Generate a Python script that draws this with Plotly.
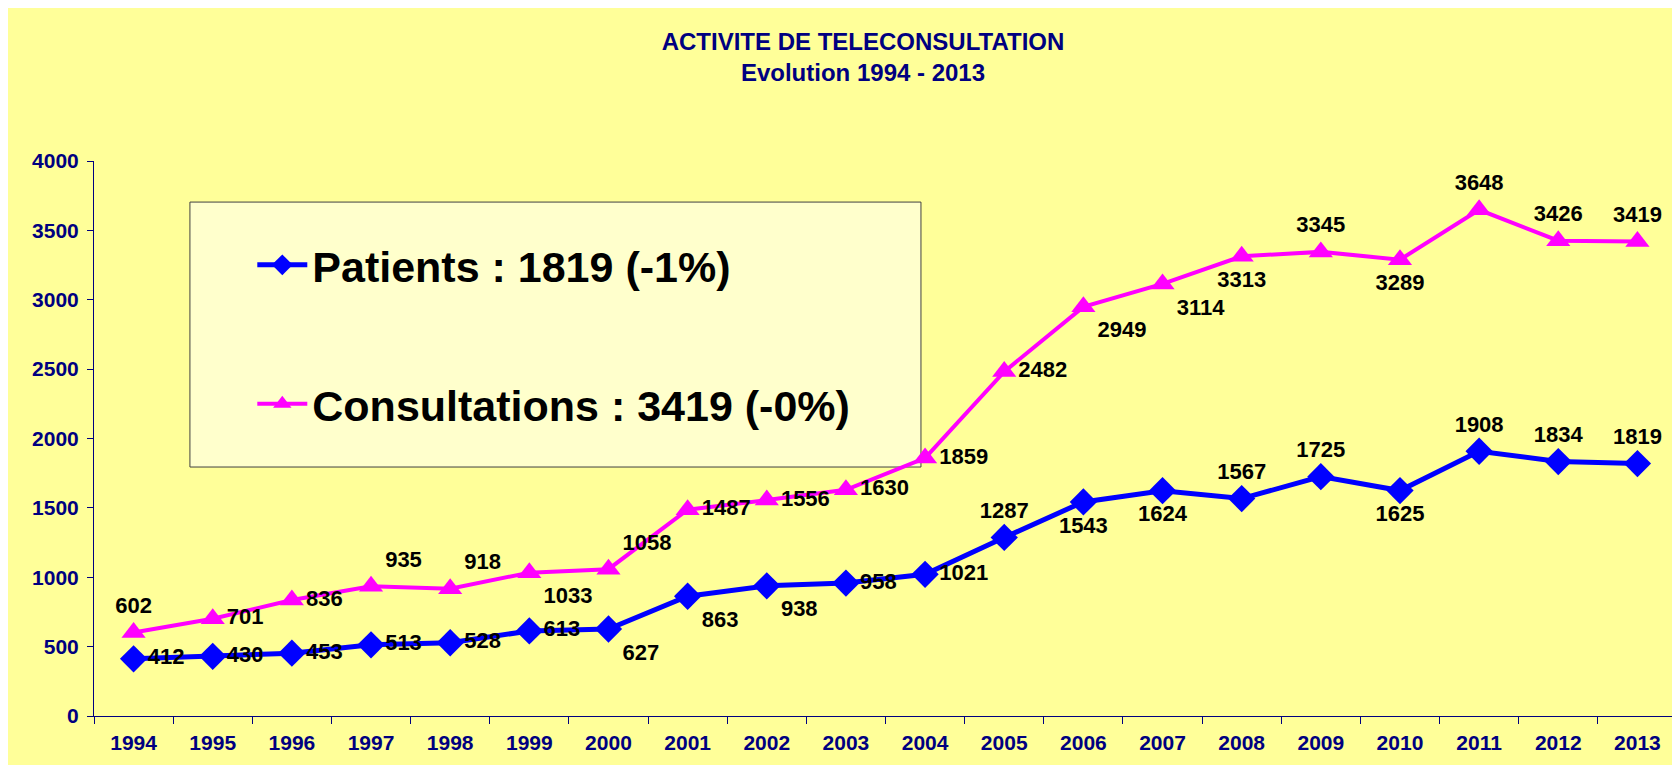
import plotly.graph_objects as go

# ==========================================================
# DATA
# ==========================================================

years = [str(y) for y in range(1994, 2014)]

patients = [412, 430, 453, 513, 528, 613, 627, 863, 938, 958,
            1021, 1287, 1543, 1624, 1567, 1725, 1625, 1908, 1834, 1819]

consultations = [602, 701, 836, 935, 918, 1033, 1058, 1487, 1556, 1630,
                 1859, 2482, 2949, 3114, 3313, 3345, 3289, 3648, 3426, 3419]

patients_label = "Patients : 1819 (-1%)"
consultations_label = "Consultations : 3419 (-0%)"

# label placement, Excel style
patients_pos = ["middle right"] * 6 + ["bottom right", "bottom right",
                                       "bottom right", "middle right",
                                       "middle right", "top center",
                                       "bottom center", "bottom center",
                                       "top center", "top center",
                                       "bottom center", "top center",
                                       "top center", "top center"]

consultations_pos = ["top center", "middle right", "middle right", "top right",
                     "top right", "bottom right", "top right", "middle right",
                     "middle right", "middle right", "middle right",
                     "middle right", "bottom right", "bottom right",
                     "bottom center", "top center", "bottom center",
                     "top center", "top center", "top center"]

# ==========================================================
# STYLE
# ==========================================================

FONT = "Liberation Sans, Arial, sans-serif"
NAVY = "#000080"
YELLOW = "#FFFF99"

fig = go.Figure()

fig.add_trace(
    go.Scatter(
        x=years,
        y=patients,
        name=patients_label,
        legendgroup="p",
        mode="lines+markers+text",
        text=patients,
        textposition=patients_pos,
        textfont=dict(family=FONT, size=22, color="black", weight="bold"),
        line=dict(color="#0000FF", width=5),
        marker=dict(symbol="diamond", size=21, color="#0000FF"),
        cliponaxis=False
    )
)

fig.add_trace(
    go.Scatter(
        x=years,
        y=consultations,
        name=consultations_label,
        legendgroup="c",
        mode="lines+markers+text",
        text=consultations,
        textposition=consultations_pos,
        textfont=dict(family=FONT, size=22, color="black", weight="bold"),
        line=dict(color="#FF00FF", width=4),
        marker=dict(symbol="triangle-up", size=21, color="#FF00FF"),
        cliponaxis=False
    )
)

# legend box
fig.add_shape(type="rect", xref="paper", yref="paper", layer="below",
              x0=0.0606, x1=0.5224, y0=0.4486, y1=0.926,
              fillcolor="#FFFFCC", line=dict(color="#404040", width=1))

fig.update_layout(
    width=1680,
    height=765,
    margin=dict(l=86, r=11, t=153, b=57),
    paper_bgcolor=YELLOW,
    plot_bgcolor=YELLOW,
    title=dict(
        text="ACTIVITE DE TELECONSULTATION<br>Evolution 1994 - 2013",
        font=dict(family=FONT, size=24, color=NAVY, weight="bold"),
        xref="container", x=855 / 1680, xanchor="center",
        yref="container", y=1 - 41.5 / 765, yanchor="middle"
    ),
    showlegend=True,
    legend=dict(
        x=0.1,
        y=0.875,
        xanchor="left",
        yanchor="top",
        bgcolor="rgba(0,0,0,0)",
        font=dict(family=FONT, size=43, color="black", weight="bold"),
        traceorder="grouped",
        tracegroupgap=80,
        itemwidth=50
    )
)

fig.update_xaxes(
    type="category",
    range=[-0.5, 19.5],
    showline=True,
    linecolor=NAVY,
    linewidth=1,
    showgrid=False,
    ticks="outside",
    tickson="boundaries",
    ticklen=7,
    tickcolor=NAVY,
    ticklabelstandoff=8,
    tickfont=dict(family=FONT, size=21, color=NAVY, weight="bold")
)

fig.update_yaxes(
    range=[0, 4000],
    dtick=500,
    showline=True,
    linecolor=NAVY,
    linewidth=1,
    showgrid=False,
    zeroline=False,
    ticks="outside",
    ticklen=6,
    tickcolor=NAVY,
    ticklabelstandoff=4,
    tickfont=dict(family=FONT, size=21, color=NAVY, weight="bold")
)

fig.write_html("out.html")
